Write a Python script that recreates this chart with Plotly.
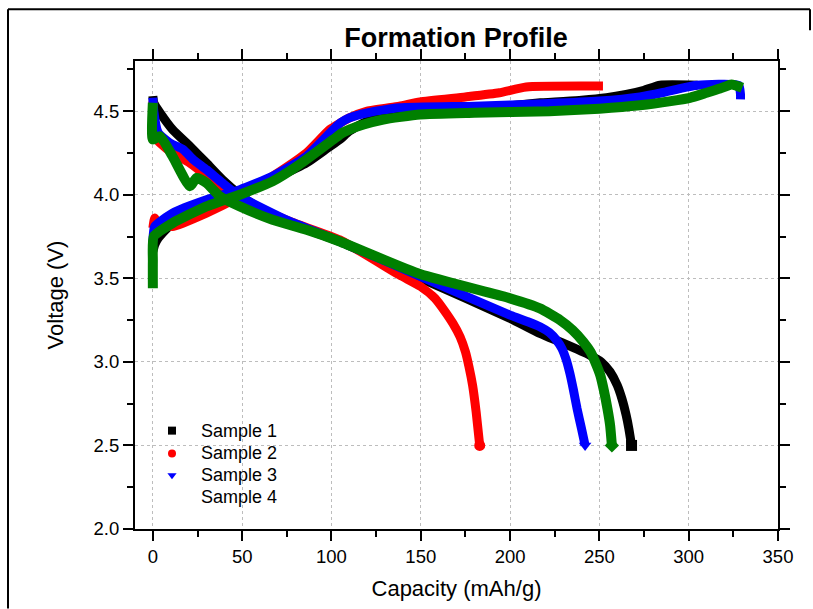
import plotly.graph_objects as go

# ---------------- data ----------------
names = ["Sample 1", "Sample 2", "Sample 3", "Sample 4"]
colors = ["#000000", "#ff0000", "#0000ff", "#008000"]
symbols = ["square", "circle", "triangle-down", "diamond"]

# Sample 1 (black)
s1_charge_cap = [0, 1, 3, 11, 30, 48.7, 67, 86, 98, 104.7, 110, 120, 140, 180, 217, 240, 254, 265, 275, 284, 305]
s1_charge_v = [3.66, 3.70, 3.74, 3.83, 3.94, 4.00, 4.09, 4.19, 4.28, 4.33, 4.38, 4.44, 4.48, 4.51, 4.55, 4.565, 4.58, 4.60, 4.625, 4.655, 4.655]
s1_dis_cap = [0, 0.5, 4, 11, 20.7, 30, 39, 48.7, 58, 76.7, 104.7, 150, 200, 216.7, 230, 244.7, 251, 256, 260, 262.6, 265, 266.5, 268]
s1_dis_v = [4.59, 4.55, 4.49, 4.39, 4.29, 4.19, 4.09, 4.00, 3.93, 3.83, 3.72, 3.50, 3.26, 3.17, 3.11, 3.04, 3.00, 2.94, 2.86, 2.78, 2.68, 2.60, 2.50]

# Sample 2 (red)
s2_charge_cap = [0, 1, 2, 4, 11, 30, 48.7, 67, 86, 99, 105, 110, 120, 138, 149.5, 175, 194, 209, 252]
s2_charge_v = [3.80, 3.86, 3.84, 3.83, 3.81, 3.89, 3.99, 4.11, 4.25, 4.39, 4.43, 4.46, 4.50, 4.53, 4.555, 4.585, 4.61, 4.645, 4.65]
s2_dis_cap = [0, 0.5, 1.5, 4, 11, 20.7, 30, 37.5, 48.7, 76.7, 104.7, 138, 150, 158, 163, 168, 172, 175, 177, 179, 181, 183]
s2_dis_v = [4.56, 4.45, 4.34, 4.31, 4.25, 4.19, 4.11, 4.03, 3.97, 3.84, 3.73, 3.52, 3.45, 3.38, 3.31, 3.23, 3.15, 3.06, 2.97, 2.86, 2.70, 2.50]

# Sample 3 (blue)
s3_charge_cap = [0, 1, 11, 30, 48.7, 67, 86, 101, 105, 110, 120, 138, 180, 222, 250, 272.7, 285, 295, 304.6, 328, 329, 329]
s3_charge_v = [3.72, 3.81, 3.89, 3.97, 4.03, 4.11, 4.23, 4.39, 4.43, 4.46, 4.49, 4.52, 4.53, 4.545, 4.56, 4.585, 4.61, 4.635, 4.655, 4.655, 4.60, 4.57]
s3_dis_cap = [0, 0.5, 3, 9.5, 17, 22.6, 30, 39, 48.7, 76.7, 104.7, 150, 200, 210, 216.7, 222, 226, 229, 231.5, 233.5, 235.5, 237.5, 240, 242]
s3_dis_v = [4.58, 4.50, 4.37, 4.31, 4.27, 4.21, 4.15, 4.07, 3.99, 3.84, 3.72, 3.51, 3.28, 3.24, 3.21, 3.175, 3.13, 3.08, 3.01, 2.93, 2.83, 2.72, 2.60, 2.50]

# Sample 4 (green)
s4_charge_cap = [0, 0, 0.5, 11, 30, 48.7, 67, 82, 101, 106, 110, 118, 129, 149.5, 180, 222, 250, 272.7, 290, 300.7, 310, 317.5, 324, 330]
s4_charge_v = [3.44, 3.60, 3.75, 3.83, 3.93, 4.00, 4.08, 4.18, 4.33, 4.37, 4.39, 4.42, 4.45, 4.48, 4.49, 4.50, 4.515, 4.535, 4.56, 4.58, 4.61, 4.635, 4.66, 4.64]
s4_dis_cap = [0, 0, 4, 11, 20.7, 24.5, 30, 37.5, 48.7, 67, 86, 104.7, 149.5, 200, 216.7, 228, 235, 241, 245, 248, 250.5, 252.5, 254.5, 256, 257]
s4_dis_v = [4.55, 4.33, 4.35, 4.23, 4.05, 4.10, 4.07, 3.99, 3.93, 3.85, 3.79, 3.72, 3.525, 3.38, 3.32, 3.25, 3.19, 3.12, 3.06, 2.99, 2.92, 2.83, 2.72, 2.62, 2.50]

x_ticks = [0, 50, 100, 150, 200, 250, 300, 350]
y_ticks = [2.0, 2.5, 3.0, 3.5, 4.0, 4.5]

curves = [
    (s1_charge_cap, s1_charge_v, s1_dis_cap, s1_dis_v),
    (s2_charge_cap, s2_charge_v, s2_dis_cap, s2_dis_v),
    (s3_charge_cap, s3_charge_v, s3_dis_cap, s3_dis_v),
    (s4_charge_cap, s4_charge_v, s4_dis_cap, s4_dis_v),
]

FONT = "Liberation Sans, Arial, sans-serif"

# ---------------- layout geometry (pixels) ----------------
W, H = 813, 609
L, R, T, B = 135, 35, 61, 77
pw, ph = W - L - R, H - T - B


def px(xp):
    return (xp - L) / pw


def py(yp):
    return (H - B - yp) / ph


fig = go.Figure()
widths = [9, 9, 9, 10]
for i, (cc, cv, dc, dv) in enumerate(curves):
    for xs, ys in ((cc, cv), (dc, dv)):
        fig.add_trace(go.Scatter(
            x=xs, y=ys, mode="lines",
            line=dict(color=colors[i], width=widths[i], shape="spline", smoothing=0.5),
            showlegend=False, hoverinfo="skip"))
    fig.add_trace(go.Scatter(
        x=[dc[-1]], y=[dv[-1]], mode="markers",
        marker=dict(symbol=symbols[i], color=colors[i], size=11),
        showlegend=False, hoverinfo="skip"))

# manual legend (markers on an overlay axis spanning the paper area)
leg_rows_px = [433, 456, 478, 500]
leg_sym_x = 172
leg_text_x = 199
fig.add_trace(go.Scatter(
    x=[px(leg_sym_x)] * 3, y=[py(r) for r in leg_rows_px[:3]],
    mode="markers", xaxis="x2", yaxis="y2",
    marker=dict(symbol=symbols[:3], color=colors[:3], size=8),
    showlegend=False, hoverinfo="skip"))
for r, n in zip(leg_rows_px, names):
    fig.add_annotation(x=px(leg_text_x), y=py(r), xref="paper", yref="paper",
                       text=n, showarrow=False, xanchor="left", yanchor="middle",
                       font=dict(family=FONT, size=18, color="black"))

axis_common = dict(
    showline=True, linewidth=2, linecolor="black", mirror="allticks",
    ticks="outside", ticklen=10, tickwidth=2, tickcolor="black",
    showgrid=True, gridcolor="#bdbdbd", gridwidth=1, griddash="dot",
    zeroline=False,
    tickfont=dict(family=FONT, size=18.5, color="black"),
)

fig.update_xaxes(
    range=[-10, 350], tickmode="array", tickvals=x_ticks,
    ticktext=[str(v) for v in x_ticks],
    minor=dict(dtick=25, tick0=0, ticks="outside", ticklen=6, tickwidth=2,
               tickcolor="black", showgrid=False),
    title=dict(text="Capacity (mAh/g)", font=dict(family=FONT, size=22, color="black"), standoff=14),
    **axis_common)
fig.update_yaxes(
    range=[2.0, 4.8], tickmode="array", tickvals=y_ticks,
    ticktext=[f"{v:.1f}" for v in y_ticks],
    minor=dict(dtick=0.25, tick0=2.0, ticks="outside", ticklen=6, tickwidth=2,
               tickcolor="black", showgrid=False),
    title=dict(text="Voltage (V)", font=dict(family=FONT, size=22, color="black"), standoff=24),
    **axis_common)

fig.update_layout(
    width=W, height=H,
    margin=dict(l=L, r=R, t=T, b=B),
    paper_bgcolor="white", plot_bgcolor="white",
    title=dict(text="<b>Formation Profile</b>", x=px(456), xref="paper", xanchor="center",
               y=1 - 38 / H, yanchor="middle",
               font=dict(family=FONT, size=27, color="black")),
    xaxis2=dict(overlaying="x", range=[0, 1], visible=False, fixedrange=True),
    yaxis2=dict(overlaying="y", range=[0, 1], visible=False, fixedrange=True),
    showlegend=False,
)

frame = dict(type="line", xref="paper", yref="paper", line=dict(color="black", width=2), layer="above")
fig.add_shape(x0=px(8), x1=px(810), y0=py(9), y1=py(9), **frame)
fig.add_shape(x0=px(8), x1=px(8), y0=py(9), y1=py(612), **frame)
fig.add_shape(x0=px(810), x1=px(810), y0=py(9), y1=py(30), **frame)

fig.write_html("out.html")
